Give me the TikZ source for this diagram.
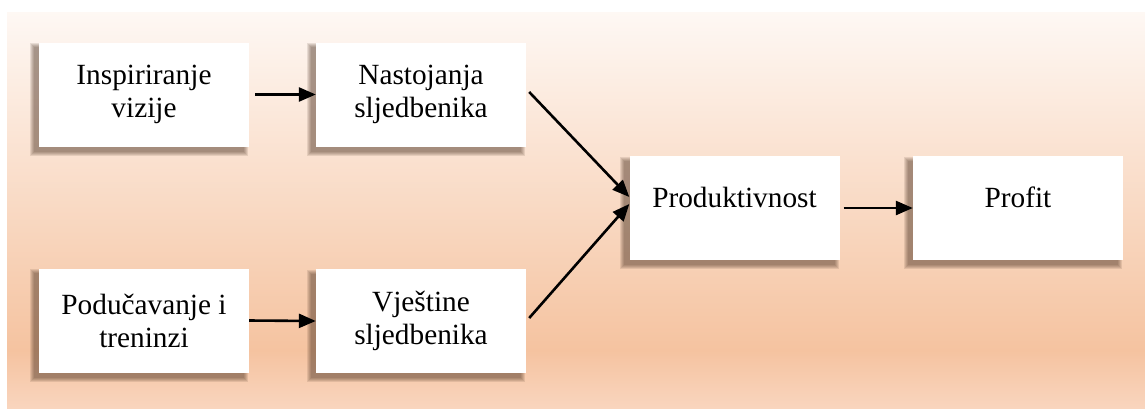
\documentclass[tikz,border=0pt]{standalone}
\usepackage{fontspec}
\setmainfont{Liberation Serif}
\usetikzlibrary{arrows.meta,calc}
\definecolor{ctop}{HTML}{FEF8F4}
\definecolor{cpeak}{HTML}{F5C3A0}
\definecolor{cbot}{HTML}{F9D5BE}
\definecolor{shadowc}{HTML}{4A3020}
\pgfdeclareverticalshading{bgshade}{100bp}{color(0bp)=(cbot); color(25bp)=(cbot); color(32.3bp)=(cpeak); color(75bp)=(ctop); color(100bp)=(ctop)}
\pgfdeclarelayer{back}
\pgfdeclarelayer{shad}
\pgfsetlayers{back,shad,main}
\tikzset{
  box/.style={fill=white, minimum width=210pt, minimum height=104pt, inner sep=0pt,
    align=center, font=\fontsize{29.3}{33}\selectfont},
  oneline/.style={text height=20pt, text depth=22pt},
  shadowlayer/.style={fill=shadowc, fill opacity=0.12},
  arr/.style={line width=2.6pt, -{Triangle[length=17pt,width=14pt]}}
}
\begin{document}
\begin{tikzpicture}[x=1pt,y=-1pt]
\useasboundingbox (0,0) rectangle (1145,408);
\begin{pgfonlayer}{back}
\fill[white] (0,0) rectangle (1145,408);
\path[shading=bgshade] (7,12) rectangle (1145,408);
\end{pgfonlayer}
\node[box] (b1) at (144,94.5) {Inspiriranje\\vizije};
\node[box] (b2) at (421,94.5) {Nastojanja\\sljedbenika};
\node[box] (b3) at (144,320.5) {Podučavanje i\\treninzi};
\node[box] (b4) at (421,321) {Vještine\\sljedbenika};
\node[box,oneline] (b5) at (734.5,208) {Produktivnost};
\node[box,oneline] (b6) at (1018,208) {Profit};
\begin{pgfonlayer}{shad}
\foreach \n in {b1,b2,b3,b4,b5,b6}{
  \foreach \k in {0,...,4}{
    \fill[shadowlayer] ($(\n.south west)+(-5-\k,5+\k)$) rectangle ($(\n.north east)+(-5+\k,5-\k)$);
  }
}
\end{pgfonlayer}
\draw[arr, shorten <=6pt] (b1.east) -- (b2.west);
\draw[arr] (b3.east) -- (b4.west);
\draw[arr] ($(b2.east)+(3,-2.5)$) -- ($(b5.west)+(0,-11)$);
\draw[arr] ($(b4.east)+(3,-3)$) -- ($(b5.west)+(0,-4)$);
\draw[arr, shorten <=4pt] (b5.east) -- (b6.west);
\end{tikzpicture}
\end{document}
